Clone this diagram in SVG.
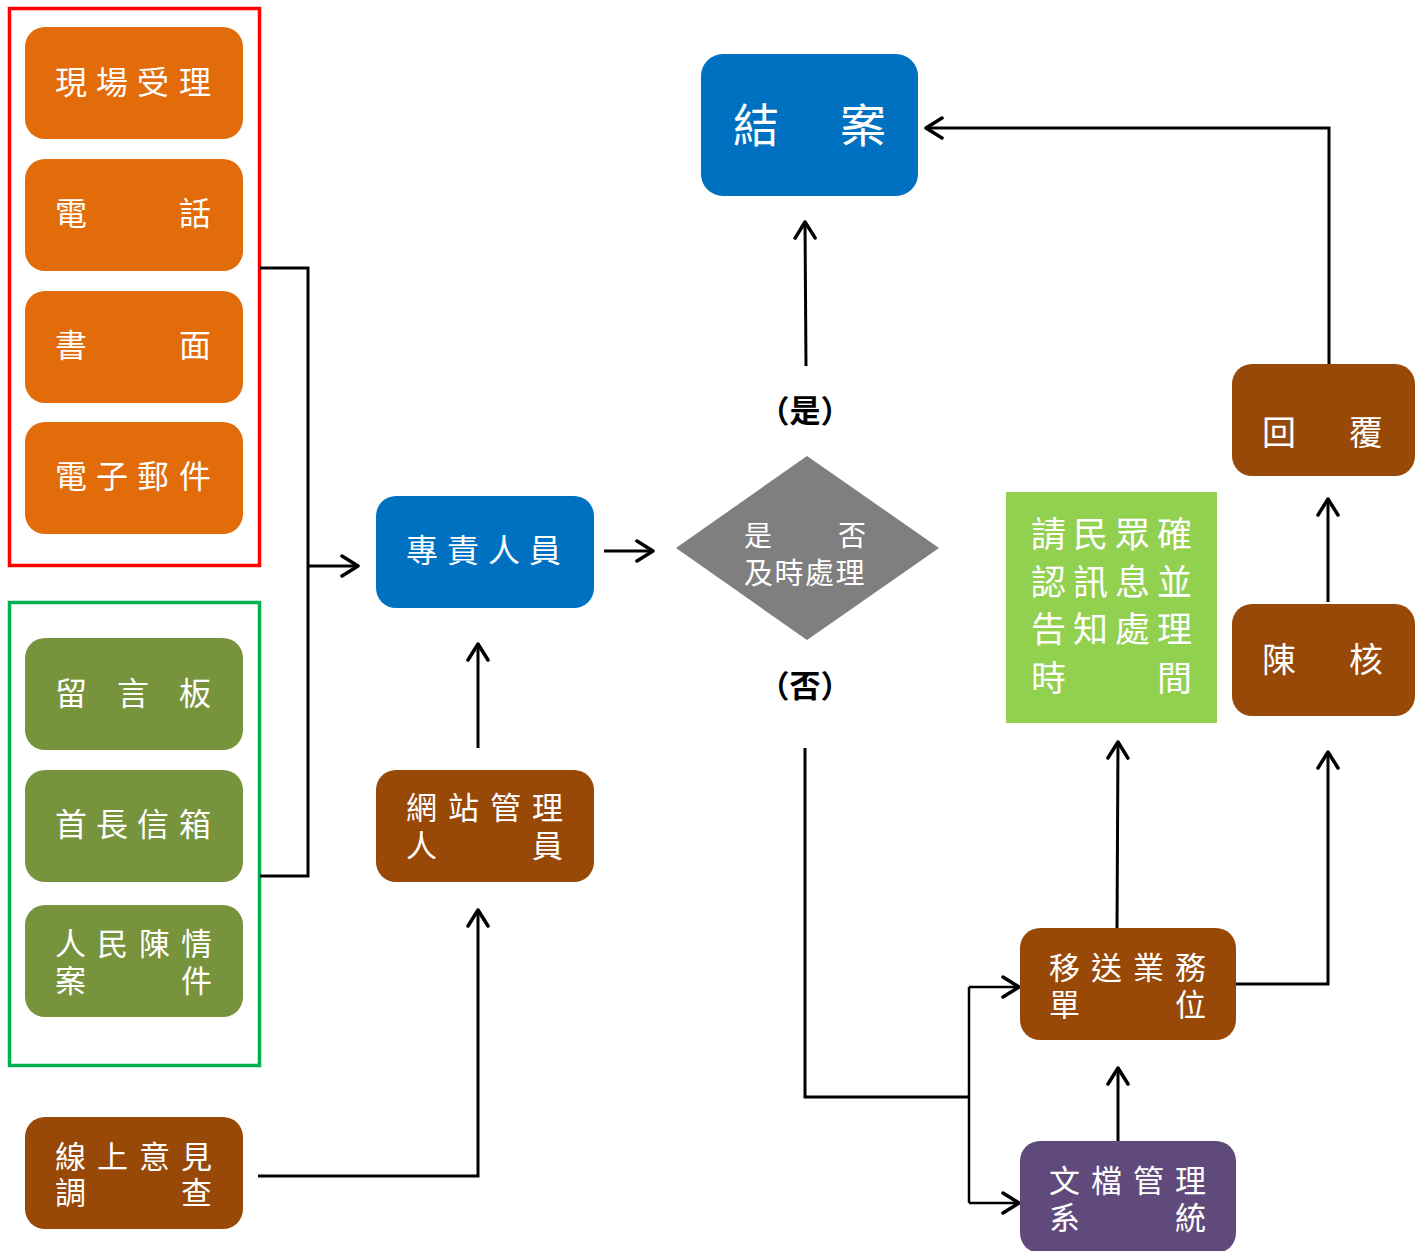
<svg xmlns="http://www.w3.org/2000/svg" width="1423" height="1251" viewBox="0 0 1423 1251">
<defs>
<marker id="arr" markerUnits="userSpaceOnUse" viewBox="0 0 22 24" refX="19" refY="12" markerWidth="22" markerHeight="24" orient="auto">
<path d="M3,2 L19,12 L3,22" fill="none" stroke="#000" stroke-width="3.5" stroke-linecap="round" stroke-linejoin="round"/>
</marker>
</defs>
<style>
text{font-family:"Noto Sans CJK TC","Noto Sans CJK SC",sans-serif;fill:#fff;}
.t{font-size:32px;}
.t2{font-size:31px;}
.or{fill:#E36C0A;}
.ol{fill:#77933C;}
.br{fill:#984807;}
.bl{fill:#0070C0;}
.pu{fill:#604A7B;}
.ln{fill:none;stroke:#000;stroke-width:3;}
.ln2{fill:none;stroke:#000;stroke-width:2.5;}
.lab{fill:#000;font-size:31px;font-weight:bold;}
</style>
<rect width="1423" height="1251" fill="#fff"/>

<rect id="redframe" x="9.5" y="8.5" width="250" height="557" fill="none" stroke="#FF0000" stroke-width="3.5"/>
<rect id="greenframe" x="9.5" y="602.5" width="250" height="463" fill="none" stroke="#00B050" stroke-width="3.5"/>

<g id="connectors">
<path class="ln" d="M260,268 H308 V876 H260"/>
<path class="ln" d="M308,566 H358" marker-end="url(#arr)"/>
<path class="ln" d="M604,551 H653" marker-end="url(#arr)"/>
<path class="ln" d="M478,748 V644" marker-end="url(#arr)"/>
<path class="ln" d="M258,1176 H478 V910" marker-end="url(#arr)"/>
<path class="ln" d="M806,366 L805,222" marker-end="url(#arr)"/>
<path class="ln" d="M1329,365 V128 H926" marker-end="url(#arr)"/>
<path class="ln" d="M1328,602 V499" marker-end="url(#arr)"/>
<path class="ln" d="M1236,984 H1328 V752" marker-end="url(#arr)"/>
<path class="ln" d="M1117,928 L1118,742" marker-end="url(#arr)"/>
<path class="ln" d="M1118,1141 V1068" marker-end="url(#arr)"/>
<path class="ln" d="M805,748 V1097 H969"/>
<path class="ln2" d="M969,987 V1203"/>
<path class="ln2" d="M969,987 H1019" marker-end="url(#arr)"/>
<path class="ln2" d="M969,1203 H1019" marker-end="url(#arr)"/>
</g>

<g id="n1"><rect class="or" x="25" y="27" width="218" height="112" rx="20"/><text class="t" x="55 96 137 179" y="94">現場受理</text></g>
<g id="n2"><rect class="or" x="25" y="159" width="218" height="112" rx="20"/><text class="t" x="55 179" y="225">電話</text></g>
<g id="n3"><rect class="or" x="25" y="291" width="218" height="112" rx="20"/><text class="t" x="55 179" y="357">書面</text></g>
<g id="n4"><rect class="or" x="25" y="422" width="218" height="112" rx="20"/><text class="t" x="55 96 137 179" y="488">電子郵件</text></g>

<g id="n5"><rect class="ol" x="25" y="638" width="218" height="112" rx="20"/><text class="t" x="55 117 179" y="705">留言板</text></g>
<g id="n6"><rect class="ol" x="25" y="770" width="218" height="112" rx="20"/><text class="t" x="55 96 137 179" y="836">首長信箱</text></g>
<g id="n7"><rect class="ol" x="25" y="905" width="218" height="112" rx="20"/><text class="t2"><tspan x="55 97 139 181" y="955">人民陳情</tspan><tspan x="55 181" y="992">案件</tspan></text></g>

<g id="n8"><rect class="br" x="25" y="1117" width="218" height="112" rx="20"/><text class="t2"><tspan x="55 97 139 181" y="1168">線上意見</tspan><tspan x="55 181" y="1204">調查</tspan></text></g>

<g id="n9"><rect class="bl" x="376" y="496" width="218" height="112" rx="20"/><text class="t" x="406 447 488 529" y="562">專責人員</text></g>
<g id="n10"><rect class="br" x="376" y="770" width="218" height="112" rx="20"/><text class="t2"><tspan x="406 448 490 532" y="819">網站管理</tspan><tspan x="406 532" y="857">人員</tspan></text></g>

<g id="n11"><polygon points="807,456 939,548 807,640 676,548" fill="#7F7F7F"/><text style="font-size:28px"><tspan x="744 838" y="546">是否</tspan><tspan style="font-size:29px" x="744 774.5 805 835.5" y="584">及時處理</tspan></text></g>
<text class="lab" x="805" y="422" text-anchor="middle">（是）</text>
<text class="lab" x="805" y="697" text-anchor="middle">（否）</text>

<g id="n12"><rect class="bl" x="701" y="54" width="217" height="142" rx="22"/><text style="font-size:46px" x="733 840" y="142">結案</text></g>

<g id="n13"><rect class="br" x="1232" y="364" width="183" height="112" rx="20"/><text style="font-size:34px" x="1262 1349" y="445">回覆</text></g>
<g id="n14"><rect class="br" x="1232" y="604" width="183" height="112" rx="20"/><text style="font-size:34px" x="1262 1349" y="672">陳核</text></g>

<g id="n15"><rect x="1006" y="492" width="211" height="231" fill="#92D050"/>
<text style="font-size:35px"><tspan x="1031 1073 1115 1157" y="547">請民眾確</tspan><tspan x="1031 1073 1115 1157" y="595">認訊息並</tspan><tspan x="1031 1073 1115 1157" y="642">告知處理</tspan><tspan x="1031 1157" y="691">時間</tspan></text></g>

<g id="n16"><rect class="br" x="1020" y="928" width="216" height="112" rx="20"/><text class="t2"><tspan x="1049 1091 1133 1175" y="979">移送業務</tspan><tspan x="1049 1175" y="1016">單位</tspan></text></g>
<g id="n17"><rect class="pu" x="1020" y="1141" width="216" height="112" rx="20"/><text class="t2"><tspan x="1049 1091 1133 1175" y="1192">文檔管理</tspan><tspan x="1049 1175" y="1229">系統</tspan></text></g>
</svg>
